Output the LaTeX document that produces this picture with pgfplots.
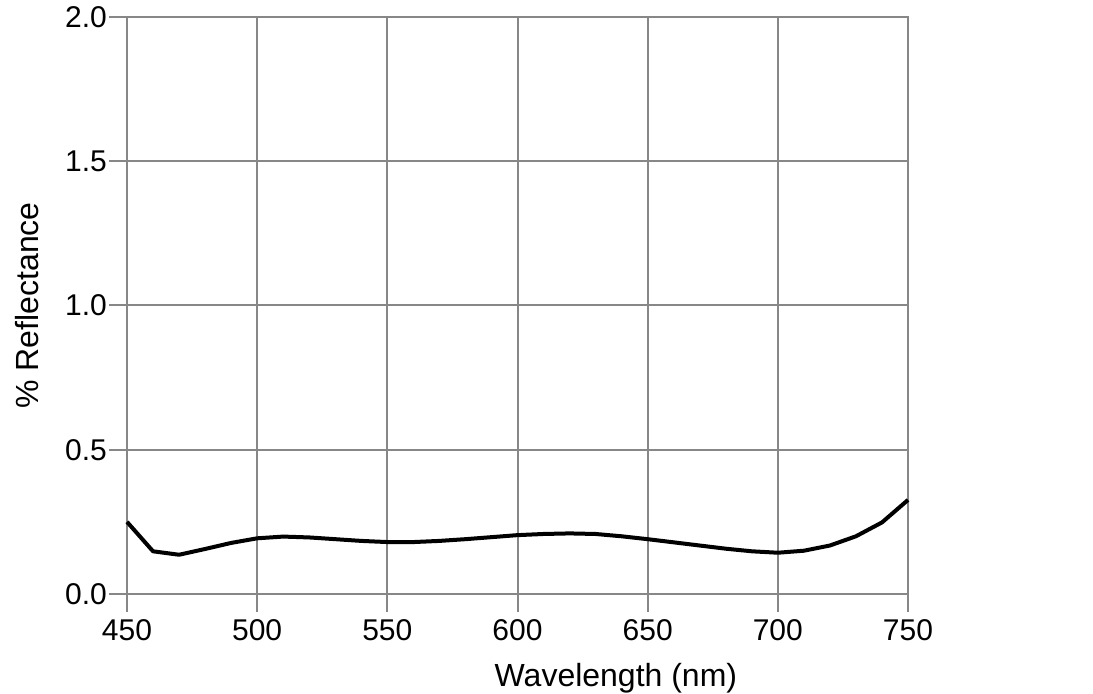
\documentclass[border=0pt]{standalone}
\usepackage{pgfplots}
\pgfplotsset{compat=1.18}
\usepackage{fontspec}
\setmainfont{Liberation Sans}

\begin{document}
\begin{tikzpicture}
\path[use as bounding box] (-63.5pt,-50pt) rectangle (483pt,297pt);
\begin{axis}[
    at={(0,0)}, anchor=south west,
    scale only axis,
    width=390.5pt, height=288.5pt,
    xmin=450, xmax=750, ymin=0, ymax=2,
    xtick={450,500,...,750},
    ytick={0,0.5,...,2},
    xtick pos=left, ytick pos=left,
    /pgf/number format/assume math mode=true,
    yticklabel style={xshift=2.5pt, /pgf/number format/.cd, fixed, fixed zerofill, precision=1},
    xticklabel style={/pgf/number format/.cd, set thousands separator={}},
    grid=major,
    grid style={color=black!47, line width=1pt},
    axis line style={color=black!47, line width=1pt},
    tick style={color=black!47, line width=1pt},
    tick align=outside,
    major tick length=9pt,
    xlabel={Wavelength (nm)},
    xlabel style={at={(axis description cs:0.626,0)}, anchor=north, yshift=-31pt},
    ylabel={\% Reflectance},
    ylabel style={yshift=6.5pt},
    tick label style={font=\fontsize{15}{18}\selectfont},
    label style={font=\fontsize{16}{19}\selectfont},
    clip=false,
]
\addplot[black, line width=2pt, line join=round, sharp plot] coordinates {
(450,0.25) (460,0.148) (470,0.136) (480,0.156) (490,0.177) (500,0.193)
(510,0.199) (520,0.196) (530,0.19) (540,0.184) (550,0.18) (560,0.18)
(570,0.184) (580,0.19) (590,0.197) (600,0.204) (610,0.208) (620,0.21)
(630,0.208) (640,0.2) (650,0.19) (660,0.179) (670,0.168) (680,0.157)
(690,0.148) (700,0.143) (710,0.15) (720,0.168) (730,0.2) (740,0.248) (750,0.326)
};
\end{axis}
\end{tikzpicture}
\end{document}
